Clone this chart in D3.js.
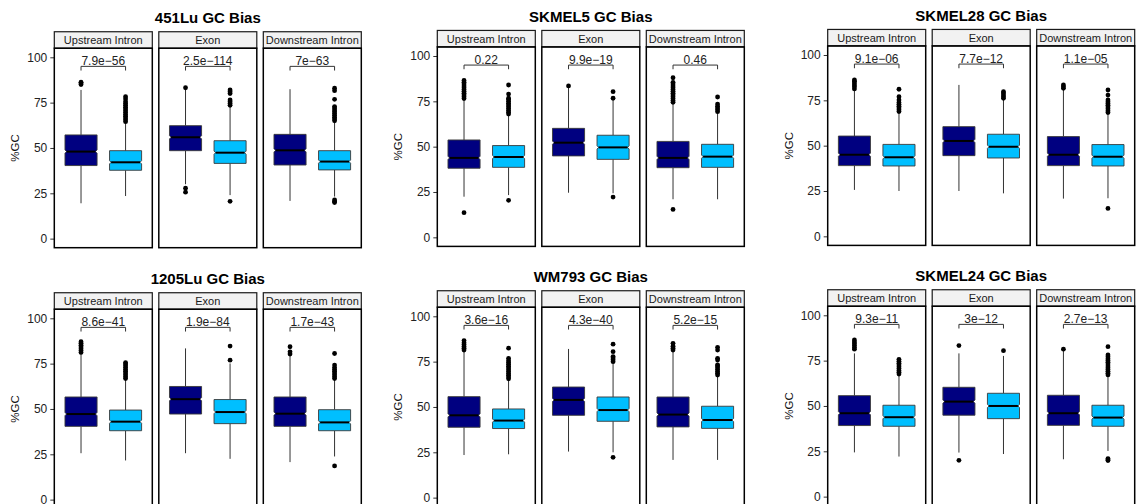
<!DOCTYPE html>
<html>
<head>
<meta charset="utf-8">
<script src="https://cdn.jsdelivr.net/npm/d3@7"></script>
<style>
  html, body { margin: 0; padding: 0; background: #fff; }
  svg { display: block; font-family: "Liberation Sans", Arial, Helvetica, sans-serif; }
</style>
</head>
<body>
<svg id="chart" width="1138" height="504"></svg>
<script>
// ---- data -------------------------------------------------------------
const cellLines = ["451Lu", "SKMEL5", "SKMEL28", "1205Lu", "WM793", "SKMEL24"];
const regions = ["Upstream Intron", "Exon", "Downstream Intron"];
const groups = ["group1", "group2"];
const groupColors = ["#000080", "#00BFFF"];
const yTicks = [0, 25, 50, 75, 100];

// Wilcoxon p-values, one per region
const pValues = {
  "451Lu":   ["7.9e\u221256", "2.5e\u2212114", "7e\u221263"],
  "SKMEL5":  ["0.22", "9.9e\u221219", "0.46"],
  "SKMEL28": ["9.1e\u221206", "7.7e\u221212", "1.1e\u221205"],
  "1205Lu":  ["8.6e\u221241", "1.9e\u221284", "1.7e\u221243"],
  "WM793":   ["3.6e\u221216", "4.3e\u221240", "5.2e\u221215"],
  "SKMEL24": ["9.3e\u221211", "3e\u221212", "2.7e\u221213"]
};

// Box statistics [lower whisker, Q1, median, Q3, upper whisker]
// order: Upstream g1, Upstream g2, Exon g1, Exon g2, Downstream g1, Downstream g2
const boxStats = {
  "451Lu": [
    [19.5, 40.3, 48.0, 57.2, 82.0], [23.5, 37.7, 42.1, 48.5, 63.8],
    [30.0, 48.5, 55.9, 62.3, 82.5], [24.0, 41.5, 47.4, 54.0, 72.8],
    [20.8, 40.6, 48.7, 57.5, 82.4], [23.2, 37.9, 42.5, 48.5, 64.5]
  ],
  "SKMEL5": [
    [22.4, 38.1, 43.8, 53.7, 75.7], [23.3, 38.6, 44.3, 50.6, 67.5],
    [24.6, 44.9, 52.2, 60.1, 82.8], [24.3, 43.0, 49.6, 56.3, 75.7],
    [21.0, 38.4, 43.8, 52.9, 73.9], [21.0, 38.6, 44.5, 51.3, 68.8]
  ],
  "SKMEL28": [
    [25.6, 39.0, 45.0, 55.3, 80.7], [25.0, 38.8, 43.6, 50.7, 68.2],
    [25.0, 44.5, 52.6, 60.5, 83.5], [23.7, 43.2, 49.4, 56.3, 75.6],
    [20.8, 39.0, 45.0, 55.0, 81.1], [21.0, 38.8, 43.9, 50.6, 67.8]
  ],
  "1205Lu": [
    [25.6, 40.4, 47.2, 56.6, 80.6], [21.6, 38.0, 43.0, 49.4, 66.2],
    [25.6, 47.2, 55.4, 62.4, 83.4], [22.5, 41.9, 48.3, 55.2, 75.1],
    [20.7, 40.4, 47.4, 56.6, 79.7], [23.8, 38.0, 42.6, 49.6, 66.2]
  ],
  "WM793": [
    [23.5, 38.8, 45.4, 55.7, 80.5], [23.9, 38.1, 42.5, 48.9, 64.9],
    [25.4, 45.4, 53.9, 61.0, 82.0], [25.0, 42.1, 48.3, 55.5, 74.1],
    [20.8, 39.0, 45.8, 55.5, 80.5], [20.8, 38.2, 42.8, 50.4, 67.1]
  ],
  "SKMEL24": [
    [24.4, 39.2, 46.0, 55.7, 79.0], [22.1, 38.8, 43.8, 50.4, 67.1],
    [24.3, 44.9, 52.4, 60.3, 79.0], [23.5, 43.0, 50.0, 57.0, 77.6],
    [20.6, 39.3, 46.0, 55.9, 80.9], [25.2, 38.8, 43.6, 50.4, 66.5]
  ]
};

// Outlying points, same order as boxStats
const outliers = {
  "451Lu": [
    [85.0, 85.8, 86.3],
    [64.5, 65.5, 66.5, 67.5, 68.5, 69.5, 70.5, 71.5, 72.5, 73.5, 74.5, 75.5, 77.0, 78.3],
    [83.2, 27.8, 25.6],
    [73.5, 74.5, 75.5, 76.5, 80.0, 81.0, 82.0, 20.6],
    [],
    [65.0, 66.0, 67.0, 68.0, 69.0, 70.0, 71.0, 72.0, 72.8, 76.8, 81.6, 83.0, 21.3, 20.6, 19.9]
  ],
  "SKMEL5": [
    [76.5, 77.5, 78.5, 79.5, 80.5, 81.5, 82.5, 83.5, 84.5, 85.5, 86.5, 13.6],
    [68.0, 69.0, 70.0, 71.0, 72.0, 73.0, 74.0, 75.0, 76.0, 76.7, 79.0, 84.0, 20.4],
    [83.5],
    [76.7, 80.3, 22.2],
    [74.5, 75.5, 76.5, 77.5, 78.5, 79.5, 80.5, 81.5, 82.5, 83.5, 84.5, 85.5, 88.0, 15.4],
    [69.3, 70.3, 71.3, 72.3, 73.5, 77.4]
  ],
  "SKMEL28": [
    [81.3, 82.5, 83.5, 84.5, 85.5, 86.2],
    [68.8, 69.8, 70.8, 71.8, 72.8, 73.8, 75.2, 77.0, 81.1],
    [],
    [76.1, 77.0, 78.0, 79.0, 79.8],
    [81.6, 82.5, 83.5],
    [68.3, 69.3, 70.3, 71.3, 72.3, 73.3, 74.2, 75.2, 77.9, 80.7, 15.4]
  ],
  "1205Lu": [
    [81.2, 82.2, 83.2, 84.2, 85.2, 86.2, 87.1],
    [66.8, 67.8, 68.8, 69.8, 70.8, 71.8, 72.8, 73.8, 74.8, 75.5],
    [],
    [76.9, 84.7],
    [80.3, 81.5, 84.3],
    [66.8, 67.8, 68.8, 69.8, 70.8, 71.8, 72.8, 74.2, 80.6, 18.6]
  ],
  "WM793": [
    [81.4, 82.4, 83.4, 84.4, 85.4, 86.6],
    [65.5, 66.5, 67.5, 68.5, 69.5, 70.5, 71.5, 72.5, 73.5, 74.5, 75.5, 76.8, 82.4],
    [],
    [75.0, 76.0, 77.0, 77.8, 80.5, 84.6, 22.2],
    [81.4, 82.4, 83.5, 85.1],
    [67.6, 68.6, 69.6, 70.6, 71.6, 72.6, 73.2, 75.9, 76.8, 81.4, 82.9]
  ],
  "SKMEL24": [
    [81.3, 82.3, 83.3, 84.3, 85.3, 86.4],
    [67.6, 68.6, 69.6, 70.6, 71.6, 72.6, 73.6, 74.6, 75.7],
    [83.3, 20.0],
    [80.5],
    [81.3],
    [67.1, 68.1, 69.1, 70.1, 71.1, 72.1, 73.1, 74.1, 75.1, 76.1, 77.1, 78.1, 82.7, 21.0, 20.3, 19.9]
  ]
};

// ---- layout -----------------------------------------------------------
const svg = d3.select("#chart");
const colLeft = [54.3, 437.3, 827.7];       // left edge of first facet per column
const rowTop100 = [[57.3, 56.0, 55.0], [318.3, 316.3, 315.3]]; // y of 100% per row/column
const facetW = 98, facetGap = 6.5;
const pxPerUnit = 1.8133;
const stripH = 16.5;
const bracketY = 95, bracketTick = 2.3;

cellLines.forEach((cl, i) => {
  const row = Math.floor(i / 3), col = i % 3;
  const left = colLeft[col];
  const y100 = rowTop100[row][col];
  const y = d3.scaleLinear().domain([0, 100]).range([y100 + 100 * pxPerUnit, y100]);
  const top = y(105), bottom = y(-5);
  const g = svg.append("g");

  // plot title
  const totalW = 3 * facetW + 2 * facetGap;
  g.append("text")
    .attr("x", left + totalW / 2).attr("y", top - stripH - 8.3)
    .attr("text-anchor", "middle")
    .attr("font-size", 15).attr("font-weight", "bold").attr("fill", "#000")
    .text(cl + " GC Bias");

  // y axis
  const axis = d3.axisLeft(y).tickValues(yTicks).tickSize(4).tickPadding(3);
  const ax = g.append("g").attr("transform", `translate(${left},0)`).call(axis);
  ax.select(".domain").remove();
  ax.selectAll(".tick line").attr("stroke", "#333").attr("stroke-width", 1);
  ax.selectAll(".tick text").attr("font-size", 12).attr("fill", "#222")
    .attr("font-family", "\"Liberation Sans\", Arial, sans-serif");

  g.append("text")
    .attr("transform", `translate(${left - 38},${y(50)}) rotate(-90)`)
    .attr("text-anchor", "middle").attr("dominant-baseline", "middle")
    .attr("font-size", 11.5).attr("fill", "#111")
    .text("%GC");

  regions.forEach((reg, r) => {
    const fx = left + r * (facetW + facetGap);
    const x = d3.scalePoint().domain(groups).range([fx, fx + facetW]).padding(0.6);
    const boxW = x.step() * 0.72;
    const fg = g.append("g");

    // panel background
    fg.append("rect").attr("x", fx).attr("y", top).attr("width", facetW).attr("height", bottom - top)
      .attr("fill", "#fff");

    // strip
    fg.append("rect").attr("x", fx).attr("y", top - stripH).attr("width", facetW).attr("height", stripH)
      .attr("fill", "#F2F2F2").attr("stroke", "#1a1a1a").attr("stroke-width", 1.2);
    fg.append("text").attr("x", fx + facetW / 2).attr("y", top - stripH / 2)
      .attr("text-anchor", "middle").attr("dominant-baseline", "central")
      .attr("font-size", 11).attr("fill", "#1a1a1a").text(reg);

    groups.forEach((gk, k) => {
      const s = boxStats[cl][r * 2 + k];
      const [lo, q1, med, q3, hi] = s;
      const cx = x(gk);
      // whiskers
      fg.append("line").attr("x1", cx).attr("x2", cx).attr("y1", y(hi)).attr("y2", y(q3))
        .attr("stroke", "#333").attr("stroke-width", 1);
      fg.append("line").attr("x1", cx).attr("x2", cx).attr("y1", y(q1)).attr("y2", y(lo))
        .attr("stroke", "#333").attr("stroke-width", 1);
      // notched box
      const x0 = cx - boxW / 2, x1 = cx + boxW / 2;
      const ni = boxW * 0.05, ne = 0.9;
      const p = d3.path();
      p.moveTo(x0, y(q3)); p.lineTo(x1, y(q3));
      p.lineTo(x1, y(med + ne)); p.lineTo(x1 - ni, y(med)); p.lineTo(x1, y(med - ne));
      p.lineTo(x1, y(q1)); p.lineTo(x0, y(q1));
      p.lineTo(x0, y(med - ne)); p.lineTo(x0 + ni, y(med)); p.lineTo(x0, y(med + ne));
      p.closePath();
      fg.append("path").attr("d", p.toString())
        .attr("fill", groupColors[k]).attr("stroke", "#3a3a3a").attr("stroke-width", 0.9);
      fg.append("line").attr("x1", x0 + ni).attr("x2", x1 - ni).attr("y1", y(med)).attr("y2", y(med))
        .attr("stroke", "#000").attr("stroke-width", 2);
      // outliers
      fg.selectAll(null).data(outliers[cl][r * 2 + k]).enter().append("circle")
        .attr("cx", cx).attr("cy", d => y(d)).attr("r", 2.4).attr("fill", "#000");
    });

    // significance bracket
    const xa = x(groups[0]), xb = x(groups[1]);
    fg.append("path")
      .attr("d", `M${xa},${y(bracketY - bracketTick)}V${y(bracketY)}H${xb}V${y(bracketY - bracketTick)}`)
      .attr("fill", "none").attr("stroke", "#333").attr("stroke-width", 1);
    fg.append("text").attr("x", (xa + xb) / 2).attr("y", y(bracketY) - 1.5)
      .attr("text-anchor", "middle").attr("font-size", 12).attr("fill", "#222")
      .text(pValues[cl][r]);

    // panel border
    fg.append("rect").attr("x", fx).attr("y", top).attr("width", facetW).attr("height", bottom - top)
      .attr("fill", "none").attr("stroke", "#000").attr("stroke-width", 1.5);
  });
});
</script>
</body>
</html>
